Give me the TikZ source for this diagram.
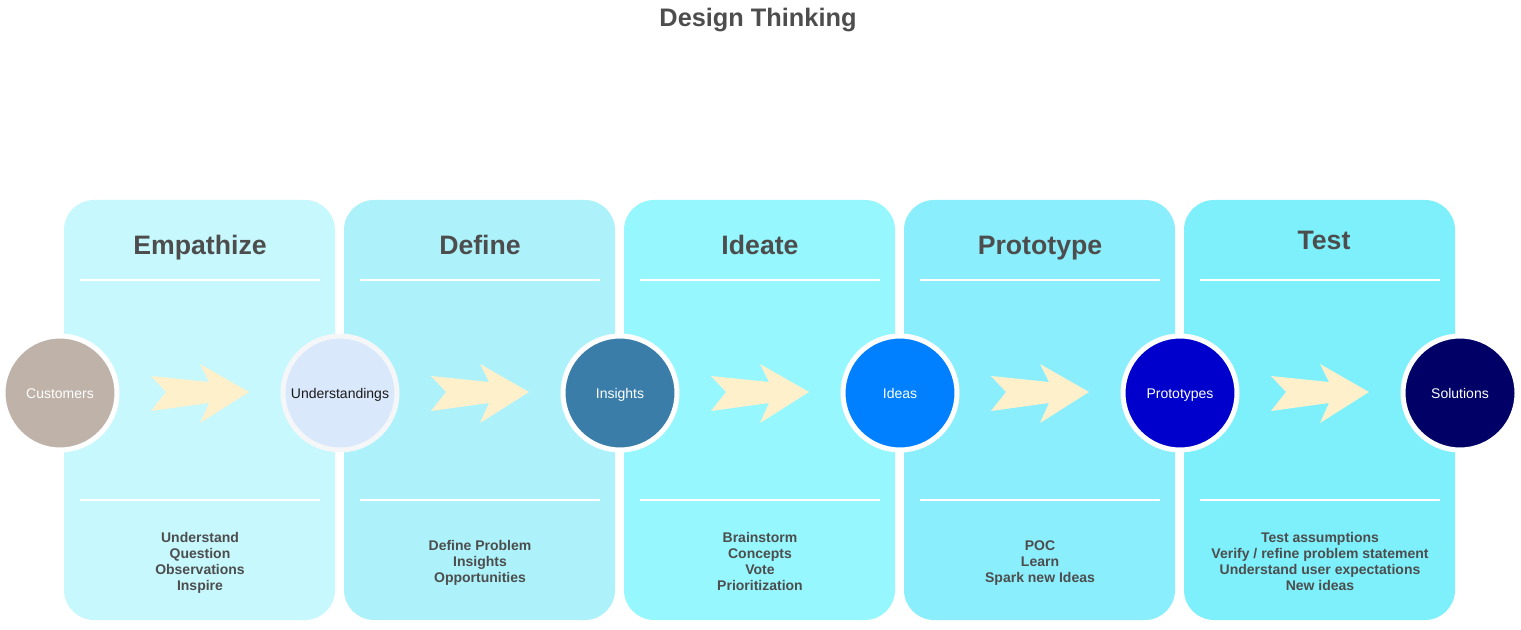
\documentclass[tikz,border=0pt]{standalone}
\usepackage{fontspec}
\setmainfont{Liberation Sans}
\usetikzlibrary{positioning}
\definecolor{ink}{HTML}{4D4D4D}
\definecolor{chev}{HTML}{FFF0CC}
\tikzstyle{panel} = [rectangle, rounded corners=22.5pt, minimum width=203.25pt, minimum height=315pt, inner sep=0pt]
\tikzstyle{phase} = [anchor=base, text=ink, font=\fontsize{20}{24}\selectfont\bfseries]
\tikzstyle{notes} = [align=center, text=ink, font=\fontsize{10.5}{12}\selectfont\bfseries]
\tikzstyle{stage} = [circle, minimum size=85.5pt, inner sep=0pt, text height=7.6pt, text depth=0pt, line width=3.75pt, draw=white, font=\fontsize{10.5}{12}\selectfont, text=white]
\tikzstyle{rule} = [draw=white, line width=1.5pt]
\tikzstyle{chevron} = [fill=chev]

\begin{document}
\begin{tikzpicture}[x=0.75pt, y=-0.75pt]
  \useasboundingbox (0,0) rectangle (1521,630);
  \node (title) [phase, font=\fontsize{19}{22}\selectfont\bfseries] at (758, 27) {Design Thinking};

  \node (p1) [panel, fill={rgb,255:red,198;green,248;blue,254}] at (199.5, 410) {};
  \node (p2) [panel, fill={rgb,255:red,173;green,242;blue,251}] at (479.5, 410) {};
  \node (p3) [panel, fill={rgb,255:red,150;green,248;blue,254}] at (759.5, 410) {};
  \node (p4) [panel, fill={rgb,255:red,138;green,238;blue,253}] at (1039.5, 410) {};
  \node (p5) [panel, fill={rgb,255:red,125;green,240;blue,252}] at (1319.5, 410) {};

  \node (t1) [phase] at (200, 255) {Empathize};
  \node (t2) [phase] at (480, 255) {Define};
  \node (t3) [phase] at (760, 255) {Ideate};
  \node (t4) [phase] at (1040, 255) {Prototype};
  \node (t5) [phase] at (1324, 250) {Test};

  \draw [rule] (80, 280) -- (320, 280);   \draw [rule] (80, 500) -- (320, 500);
  \draw [rule] (360, 280) -- (600, 280);  \draw [rule] (360, 500) -- (600, 500);
  \draw [rule] (640, 280) -- (880, 280);  \draw [rule] (640, 500) -- (880, 500);
  \draw [rule] (920, 280) -- (1160, 280); \draw [rule] (920, 500) -- (1160, 500);
  \draw [rule] (1200, 280) -- (1440, 280); \draw [rule] (1200, 500) -- (1440, 500);

  % arrow shapes between the stages
  \fill [chevron] (151,376) -- (209,382) -- (200,364) -- (249,392) -- (200,423) -- (209,403) -- (151,411) -- (166,392) -- cycle;
  \fill [chevron, xshift=210pt] (151,376) -- (209,382) -- (200,364) -- (249,392) -- (200,423) -- (209,403) -- (151,411) -- (166,392) -- cycle;
  \fill [chevron, xshift=420pt] (151,376) -- (209,382) -- (200,364) -- (249,392) -- (200,423) -- (209,403) -- (151,411) -- (166,392) -- cycle;
  \fill [chevron, xshift=630pt] (151,376) -- (209,382) -- (200,364) -- (249,392) -- (200,423) -- (209,403) -- (151,411) -- (166,392) -- cycle;
  \fill [chevron, xshift=840pt] (151,376) -- (209,382) -- (200,364) -- (249,392) -- (200,423) -- (209,403) -- (151,411) -- (166,392) -- cycle;

  \node (n1) [stage, fill={rgb,255:red,190;green,178;blue,169}] at (60, 393) {Customers};
  \node (n2) [stage, fill={rgb,255:red,218;green,232;blue,252}, draw={rgb,255:red,245;green,246;blue,248}, text={rgb,255:red,26;green,26;blue,26}] at (340, 393) {Understandings};
  \node (n3) [stage, fill={rgb,255:red,58;green,125;blue,168}] at (620, 393) {Insights};
  \node (n4) [stage, fill={rgb,255:red,0;green,128;blue,255}] at (900, 393) {Ideas};
  \node (n5) [stage, fill={rgb,255:red,0;green,0;blue,204}] at (1180, 393) {Prototypes};
  \node (n6) [stage, fill={rgb,255:red,0;green,0;blue,102}] at (1460, 393) {Solutions};

  \node (d1) [notes] at (200, 563) {Understand\\Question\\Observations\\Inspire};
  \node (d2) [notes] at (480, 563) {Define Problem\\Insights\\Opportunities};
  \node (d3) [notes] at (760, 561) {Brainstorm\\Concepts\\Vote\\Prioritization};
  \node (d4) [notes] at (1040, 563) {POC\\Learn\\Spark new Ideas};
  \node (d5) [notes] at (1320, 561) {Test assumptions\\Verify / refine problem statement\\Understand user expectations\\New ideas};
\end{tikzpicture}
\end{document}
